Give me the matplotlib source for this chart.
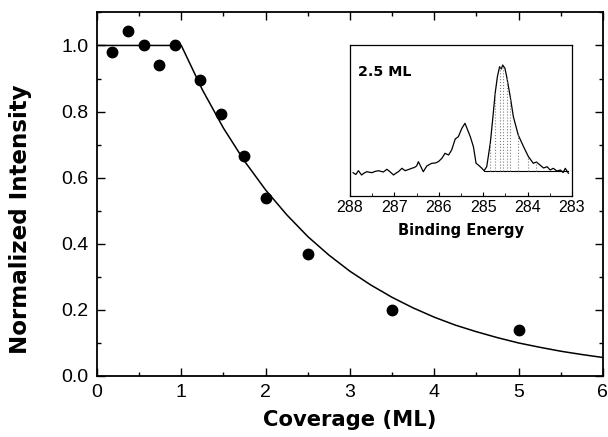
import matplotlib

matplotlib.use("Agg")

import matplotlib.pyplot as plt
from matplotlib.ticker import MultipleLocator

plt.rcParams["font.family"] = ["Liberation Sans", "DejaVu Sans"]
BOLD = dict(family="DejaVu Sans", fontweight="bold")

# measured attenuation of the substrate signal
coverage = [0.18, 0.37, 0.56, 0.74, 0.93, 1.22, 1.47, 1.74, 2.0, 2.5, 3.5, 5.0]
intensity = [0.98, 1.043, 1.0, 0.94, 1.0, 0.897, 0.793, 0.666, 0.537, 0.37, 0.2, 0.14]

# layer-by-layer fit curve
fit_cov = [0.0, 1.0, 1.25, 1.5, 1.75, 2.0, 2.25, 2.5, 2.75, 3.0, 3.25, 3.5,
           3.75, 4.0, 4.25, 4.5, 4.75, 5.0, 5.25, 5.5, 5.75, 6.0]
fit_int = [1.0, 1.0, 0.866, 0.750, 0.650, 0.563, 0.488, 0.422, 0.366, 0.317,
           0.275, 0.238, 0.206, 0.178, 0.154, 0.134, 0.116, 0.100, 0.087,
           0.075, 0.065, 0.056]

# C 1s spectrum at 2.5 ML (arb. units)
be = [287.93, 287.87, 287.81, 287.74, 287.68, 287.62, 287.51, 287.44, 287.36,
      287.25, 287.17, 287.10, 287.02, 286.96, 286.91, 286.83, 286.76, 286.68,
      286.61, 286.55, 286.50, 286.46, 286.40, 286.35, 286.27, 286.16, 286.08,
      286.01, 285.93, 285.86, 285.78, 285.71, 285.63, 285.56, 285.48, 285.41,
      285.29, 285.22, 285.16, 285.11, 285.03, 284.98, 284.92, 284.84, 284.78,
      284.73, 284.68, 284.63, 284.59, 284.56, 284.51, 284.47, 284.43, 284.39,
      284.32, 284.21, 284.09, 283.98, 283.87, 283.80, 283.72, 283.64, 283.56,
      283.49, 283.42, 283.34, 283.26, 283.20, 283.15, 283.08]
counts = [23.3, 21.5, 25.3, 21.0, 23.0, 24.3, 23.3, 24.5, 25.3,
          24.0, 26.7, 24.3, 21.0, 23.0, 24.3, 27.7, 25.3, 26.5,
          27.7, 28.5, 30.0, 34.3, 29.0, 24.3, 30.0, 32.7, 33.0,
          34.3, 37.7, 42.7, 41.0, 46.0, 57.0, 59.3, 67.7, 72.7,
          59.3, 49.3, 32.7, 31.0, 27.7, 25.3, 29.3, 52.7, 79.3,
          102.7, 119.3, 129.3, 127.0, 131.0, 127.7, 119.3, 109.3, 99.3,
          79.3, 61.0, 49.3, 39.3, 32.7, 34.0, 31.0, 28.0, 29.3,
          26.0, 27.7, 25.0, 26.0, 23.5, 27.7, 22.7]
peak_start = 41       # index of 284.98 eV, where the shaded component begins
background = 25.0

fig = plt.figure(figsize=(6.08, 4.37), dpi=100)
ax = fig.add_axes([0.1595, 0.1396, 0.832, 0.832])

ax.plot(fit_cov, fit_int, color="black", lw=1.1)
ax.plot(coverage, intensity, "o", color="black", ms=7.5)

ax.set_xlim(0, 6)
ax.set_ylim(0, 1.1)
ax.xaxis.set_major_locator(MultipleLocator(1))
ax.xaxis.set_minor_locator(MultipleLocator(0.5))
ax.yaxis.set_major_locator(MultipleLocator(0.2))
ax.yaxis.set_minor_locator(MultipleLocator(0.1))
ax.yaxis.set_major_formatter(lambda v, pos: f"{v:.1f}")
ax.tick_params(which="both", direction="in", top=True, right=True, labelsize=14)
ax.tick_params(which="major", length=6, width=1.0, pad=6)
ax.tick_params(which="minor", length=3, width=1.0)
for sp in ax.spines.values():
    sp.set_linewidth(1.3)
ax.set_xlabel("Coverage (ML)", fontsize=15.2, labelpad=6, **BOLD)
ax.set_ylabel("Normalized Intensity", fontsize=16.6, **BOLD)
ax.yaxis.set_label_coords(-0.128, 0.432)

ins = fig.add_axes([0.5757, 0.5515, 0.365, 0.3455])
ins.plot(be, counts, color="black", lw=0.9)
fe = be[peak_start:]
fc = counts[peak_start:]
ins.plot([fe[0], fe[-1]], [background, background], color="black", lw=0.8)
ins.vlines(fe[2:20:2], background, fc[2:20:2], colors="0.5",
           linestyles=":", lw=0.8)
ins.set_xlim(288, 283)
ins.set_ylim(0, 151)
ins.set_yticks([])
ins.xaxis.set_major_locator(MultipleLocator(1))
ins.xaxis.set_minor_locator(MultipleLocator(0.5))
ins.tick_params(which="both", direction="in", labelsize=11.5, pad=3)
ins.tick_params(which="major", length=3)
ins.tick_params(which="minor", length=2)
for sp in ins.spines.values():
    sp.set_linewidth(0.9)
ins.set_xlabel("Binding Energy", fontsize=10.5, labelpad=6, **BOLD)
ins.text(0.035, 0.82, "2.5 ML", transform=ins.transAxes, fontsize=10.3,
         va="center", **BOLD)

fig.savefig("out.png", dpi=100)
